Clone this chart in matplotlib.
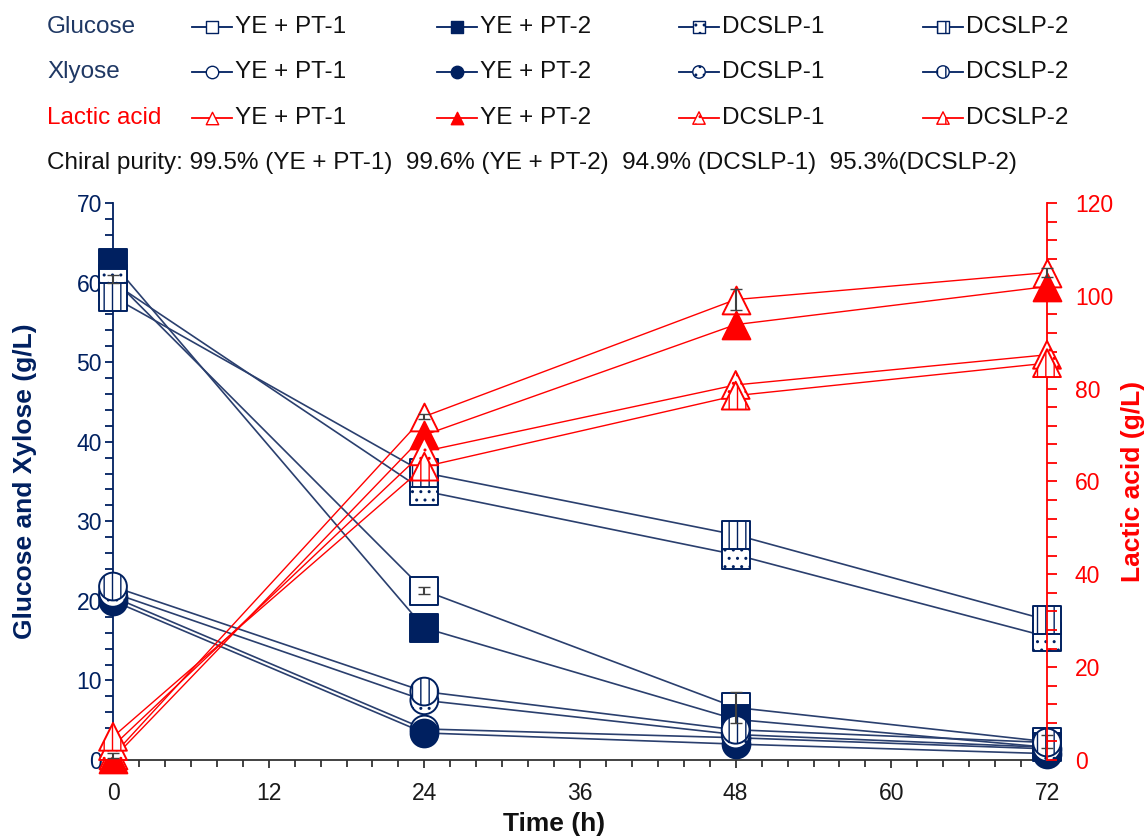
import matplotlib
matplotlib.use("Agg")
import matplotlib.pyplot as plt
from matplotlib.ticker import MultipleLocator

plt.rcParams['font.family'] = ['Liberation Sans', 'DejaVu Sans']
plt.rcParams['hatch.linewidth'] = 1.0

# #### Data

time_h = [0, 24, 48, 72]
series_names = ["YE + PT-1", "YE + PT-2", "DCSLP-1", "DCSLP-2"]

glucose_ye_pt1 = [60.5, 21.3, 6.6, 2.3]
glucose_ye_pt2 = [62.4, 16.6, 5.1, 1.6]
glucose_dcslp1 = [60.0, 33.8, 25.8, 15.5]
glucose_dcslp2 = [58.2, 36.1, 28.3, 17.6]

xylose_ye_pt1 = [20.5, 3.9, 2.8, 1.4]
xylose_ye_pt2 = [20.0, 3.4, 2.0, 0.8]
xylose_dcslp1 = [21.0, 7.5, 3.2, 1.6]
xylose_dcslp2 = [21.8, 8.6, 3.8, 2.2]

lactic_ye_pt1 = [1.0, 74.0, 99.2, 105.0]
lactic_ye_pt2 = [0.3, 70.0, 93.8, 102.0]
lactic_dcslp1 = [3.0, 66.5, 80.8, 87.3]
lactic_dcslp2 = [5.0, 63.2, 78.5, 85.5]

glucose_err_ye_pt1 = [0.5, 0.4, 1.9, 0.8]
lactic_err_ye_pt1 = [0.5, 0.6, 2.3, 1.0]

purity_text = "Chiral purity: 99.5% (YE + PT-1)  99.6% (YE + PT-2)  94.9% (DCSLP-1)  95.3%(DCSLP-2)"

navy = '#002060'
navy_line = '#2a3f6e'
red = '#ff0000'

# fill / hatch per series: open, solid, dotted, vertical lines
hatches = [None, None, '..', '||']
solid = [False, True, False, False]


def draw_series(axis, y, color, line_color, marker, idx, lw):
    axis.plot(time_h, y, color=line_color, lw=lw, zorder=2, clip_on=False)
    face = color if solid[idx] else 'white'
    with plt.rc_context({'hatch.color': color}):
        axis.scatter(time_h, y, s=400, marker=marker, facecolor=face,
                     edgecolor=color, linewidths=1.4, hatch=hatches[idx],
                     zorder=3, clip_on=False)


fig = plt.figure(figsize=(11.47, 8.4), dpi=100)
ax = fig.add_axes([113 / 1147, 80 / 840, 934 / 1147, 557 / 840])
ax2 = ax.twinx()

glucose = [glucose_ye_pt1, glucose_ye_pt2, glucose_dcslp1, glucose_dcslp2]
xylose = [xylose_ye_pt1, xylose_ye_pt2, xylose_dcslp1, xylose_dcslp2]
lactic = [lactic_ye_pt1, lactic_ye_pt2, lactic_dcslp1, lactic_dcslp2]

for i in range(4):
    draw_series(ax, glucose[i], navy, navy_line, 's', i, 1.2)
for i in range(4):
    draw_series(ax, xylose[i], navy, navy_line, 'o', i, 1.2)
for i in range(4):
    draw_series(ax2, lactic[i], red, red, '^', i, 1.0)

ax.errorbar(time_h, glucose_ye_pt1, yerr=glucose_err_ye_pt1, fmt='none',
            ecolor='#404040', elinewidth=1.5, capsize=4, zorder=4, clip_on=False)
ax2.errorbar(time_h, lactic_ye_pt1, yerr=lactic_err_ye_pt1, fmt='none',
             ecolor='#404040', elinewidth=1.5, capsize=4, zorder=4, clip_on=False)

ax.set_xlim(0, 72)
ax.set_ylim(0, 70)
ax2.set_ylim(0, 120)
ax.xaxis.set_major_locator(MultipleLocator(12))
ax.xaxis.set_minor_locator(MultipleLocator(2))
ax.yaxis.set_major_locator(MultipleLocator(10))
ax.yaxis.set_minor_locator(MultipleLocator(2))
ax2.yaxis.set_major_locator(MultipleLocator(20))
ax2.yaxis.set_minor_locator(MultipleLocator(4))

for a in (ax, ax2):
    a.spines['top'].set_visible(False)
ax.spines['right'].set_visible(False)
ax2.spines['left'].set_visible(False)
ax2.spines['bottom'].set_visible(False)
ax.spines['left'].set_color(navy)
ax.spines['left'].set_linewidth(1.3)
ax.spines['bottom'].set_color('#333333')
ax.spines['bottom'].set_linewidth(1.3)
ax2.spines['right'].set_color(red)
ax2.spines['right'].set_linewidth(1.3)

ax.tick_params(axis='y', which='both', direction='out', length=6, width=1.3,
               color=navy, labelcolor=navy, labelsize=16.5, pad=2)
ax.tick_params(axis='x', which='major', direction='out', length=6, width=1.3,
               color='#333333', labelcolor='#1a1a1a', labelsize=16.5, pad=10)
ax.tick_params(axis='x', which='minor', direction='out', length=5, width=1.3,
               color='#333333')
ax2.tick_params(axis='y', which='both', direction='out', length=7, width=1.3,
                color=red, labelcolor=red, labelsize=16.5, pad=13)

ax.set_ylabel("Glucose and Xylose (g/L)", color=navy, fontsize=19,
              fontweight='bold', labelpad=28)
ax2.set_ylabel("Lactic acid (g/L)", color=red, fontsize=19,
               fontweight='bold', labelpad=6)
ax.set_xlabel("Time (h)", fontsize=19, fontweight='bold', color='#111111')
ax.xaxis.set_label_coords(0.472, -0.094)

# #### Legend block above the plot (pixel layout)

lax = fig.add_axes([0, 0, 1, 1], zorder=5)
lax.set_xlim(0, 1147)
lax.set_ylim(840, 0)
lax.axis('off')
lax.patch.set_alpha(0)

row_y = [27, 72, 118]
row_titles = ["Glucose", "Xlyose", "Lactic acid"]
row_colors = [navy, navy, red]
row_markers = ['s', 'o', '^']
col_x = [192, 437, 679, 923]

for r in range(3):
    lax.text(47, row_y[r], row_titles[r], color='#1F3864' if r < 2 else red,
             fontsize=17.5, va='center', ha='left')
    for c in range(4):
        x0 = col_x[c]
        lax.plot([x0, x0 + 40], [row_y[r], row_y[r]], color=row_colors[r],
                 lw=1.3)
        face = row_colors[r] if solid[c] else 'white'
        with plt.rc_context({'hatch.color': row_colors[r]}):
            lax.scatter([x0 + 20], [row_y[r]], s=80, marker=row_markers[r],
                        facecolor=face, edgecolor=row_colors[r],
                        linewidths=1.0, hatch=hatches[c], zorder=3)
        lax.text(x0 + 43, row_y[r], series_names[c], color='#111111',
                 fontsize=17.5, va='center', ha='left')

lax.text(47, 163, purity_text, color='#111111', fontsize=17.5,
         va='center', ha='left')

fig.savefig("out.png", dpi=100)
